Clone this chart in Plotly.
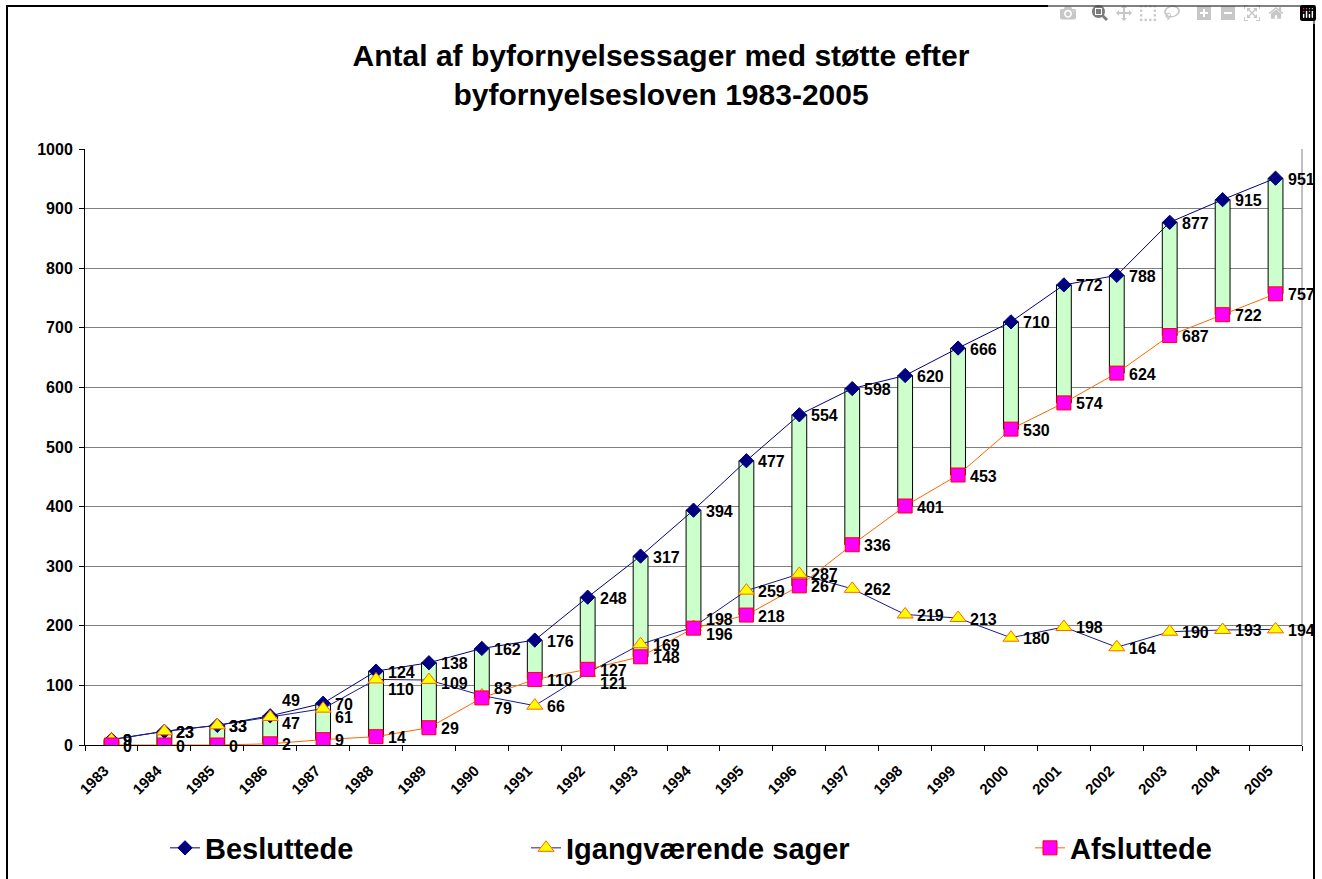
import plotly.graph_objects as go

years = [str(y) for y in range(1983, 2006)]
besluttede = [9, 23, 33, 49, 70, 124, 138, 162, 176, 248, 317, 394, 477, 554, 598, 620, 666, 710, 772, 788, 877, 915, 951]
igangvaerende = [9, 23, 33, 47, 61, 110, 109, 83, 66, 121, 169, 198, 259, 287, 262, 219, 213, 180, 198, 164, 190, 193, 194]
afsluttede = [0, 0, 0, 2, 9, 14, 29, 79, 110, 127, 148, 196, 218, 267, 336, 401, 453, 530, 574, 624, 687, 722, 757]

W, H = 1322, 879
L, R, T, B = 85, 20, 149, 134
FONT = "Liberation Sans"

fig = go.Figure()

# up-down bars between Besluttede and Afsluttede
fig.add_trace(go.Bar(
    x=years,
    y=[b - a for b, a in zip(besluttede, afsluttede)],
    base=afsluttede,
    width=0.28,
    marker=dict(color="#CCFFCC", line=dict(color="#000000", width=1)),
    showlegend=False, hoverinfo="skip",
))

series = [
    ("Besluttede", besluttede, "#000080", dict(symbol="diamond", size=11, color="#000080",
                                              line=dict(color="#000080", width=1)), "legend"),
    ("Igangværende sager", igangvaerende, "#1A1A90", dict(symbol="triangle-up", size=14, color="#FFFF00",
                                                          line=dict(color="#FF6600", width=1)), "legend2"),
    ("Afsluttede", afsluttede, "#FF6600", dict(symbol="square", size=14, color="#FF00FF",
                                              line=dict(color="#FF0000", width=1)), "legend3"),
]

for name, vals, lc, mk, lg in series:
    fig.add_trace(go.Scatter(
        x=years, y=vals, name=name, mode="lines+markers",
        line=dict(color=lc, width=1), marker=mk, legend=lg,
    ))

# label nudges (pixels, up positive) to mimic the reference's hand-placed labels
nudges = {
    "Besluttede": {"1986": (0, 16)},
    "Igangværende sager": {"1986": (0, -6), "1987": (0, -8), "1988": (0, -9), "1989": (0, -2),
                           "1990": (0, 8), "1992": (0, -10), "1994": (0, 8)},
    "Afsluttede": {"1990": (0, -10), "1994": (0, -5)},
}

annotations = []
for name, vals, lc, mk, lg in series:
    for i, (yr, v) in enumerate(zip(years, vals)):
        dx, dy = nudges[name].get(yr, (0, 0))
        annotations.append(dict(
            x=i, y=v, xref="x", yref="y", text=str(v), showarrow=False,
            xanchor="left", yanchor="middle", xshift=10 + dx, yshift=dy - 1,
            font=dict(family=FONT, size=16, color="#000000", weight="bold"),
        ))

legend_common = dict(orientation="h", xref="container", yref="container",
                     yanchor="middle", y=1 - 848 / H, bgcolor="rgba(0,0,0,0)",
                     font=dict(family=FONT, size=29, color="#000000", weight="bold"))

pw = W - L - R
ph = H - T - B
fig.update_layout(
    width=W, height=H,
    margin=dict(l=L, r=R, t=T, b=B, autoexpand=False),
    paper_bgcolor="white", plot_bgcolor="white",
    font=dict(family=FONT, color="#000000", weight="bold"),
    title=dict(text="Antal af byfornyelsessager med støtte efter<br>byfornyelsesloven 1983-2005",
               x=0.5, xref="container", xanchor="center",
               y=1 - 66 / H, yref="container", yanchor="top",
               font=dict(family=FONT, size=30, color="#000000", weight="bold")),
    xaxis=dict(type="category", range=[-0.5, len(years) - 0.5], autorange=False,
               tickangle=-45, ticks="outside", tickson="boundaries", ticklen=5,
               ticklabelstandoff=10, ticklabelshift=-7,
               tickcolor="#000000", showline=True, linecolor="#000000", linewidth=1,
               showgrid=False, tickfont=dict(family=FONT, size=15, color="#000000", weight="bold")),
    yaxis=dict(range=[0, 1000], dtick=100, ticks="outside", ticklen=5, tickcolor="#000000",
               ticklabelstandoff=3,
               showline=True, linecolor="#000000", linewidth=1,
               showgrid=True, gridcolor="#808080", gridwidth=1, zeroline=False,
               tickfont=dict(family=FONT, size=16, color="#000000", weight="bold")),
    barmode="overlay",
    legend=dict(**legend_common, x=165 / W, xanchor="left"),
    legend2=dict(**legend_common, x=526 / W, xanchor="left"),
    legend3=dict(**legend_common, x=1030 / W, xanchor="left"),
    annotations=annotations,
    shapes=[
        dict(type="line", xref="paper", yref="paper", x0=1, x1=1, y0=0, y1=1,
             line=dict(color="#808080", width=1)),
        dict(type="rect", xref="paper", yref="paper",
             x0=(7 - L) / pw, x1=(1314 - L) / pw,
             y0=-(B + 20) / ph, y1=1 + (T - 6) / ph,
             line=dict(color="#000000", width=2), fillcolor="rgba(0,0,0,0)", layer="below"),
    ],
    showlegend=True,
)

fig.write_html("out.html", post_script="document.body.style.margin='0';")
